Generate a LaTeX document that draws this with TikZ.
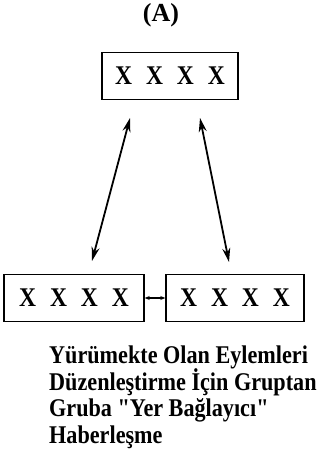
\documentclass[tikz,border=0pt]{standalone}
\usepackage{fontspec}
\setmainfont{Liberation Serif}
\newfontfamily\narrowfont[FakeStretch=0.87, Ligatures=TeXOff]{Liberation Serif}
\usetikzlibrary{arrows.meta,positioning}

\begin{document}
\begin{tikzpicture}[x=1pt, y=-1pt,
    group/.style={draw, line width=1.4pt, minimum width=136pt, minimum height=47pt, inner sep=0pt,
        font=\narrowfont\fontsize{27}{30}\selectfont\bfseries,
        execute at begin node={\spaceskip=14pt\relax}},
    link/.style={{Stealth[length=14pt,width=8pt]}-{Stealth[length=14pt,width=8pt]}, line width=1.8pt},
    tie/.style={{Stealth[length=5pt,width=4pt]}-{Stealth[length=5pt,width=4pt]}, line width=1.2pt}
]
\useasboundingbox (0,0) rectangle (321,474);

% heading and the three groups
\node[font=\fontsize{26}{30}\selectfont\bfseries] (title) at (161,15) {(A)};
\node[group] (top) at (170,76) {X X X X};
\node[group, minimum width=140pt] (left) at (74,298) {X X X X};
\node[group, minimum width=138pt] (right) at (235,298) {X X X X};

% ends of the long arrows
\coordinate (lt) at (130,118);
\coordinate (lb) at (92,261);
\coordinate (rt) at (200,118);
\coordinate (rb) at (229,262);

\draw[link] (lt) -- (lb);
\draw[link] (rt) -- (rb);
\draw[tie] (left) -- (right);

\node[anchor=north west, align=left, inner sep=0pt,
    font=\narrowfont\fontsize{25.5}{26.4}\selectfont\bfseries,
    execute at begin node={\lineskiplimit=-20pt\relax}] (caption) at (49,346)
    {Yürümekte Olan Eylemleri\\
     Düzenleştirme İçin Gruptan\\
     Gruba "Yer Bağlayıcı"\\
     Haberleşme};
\end{tikzpicture}
\end{document}
